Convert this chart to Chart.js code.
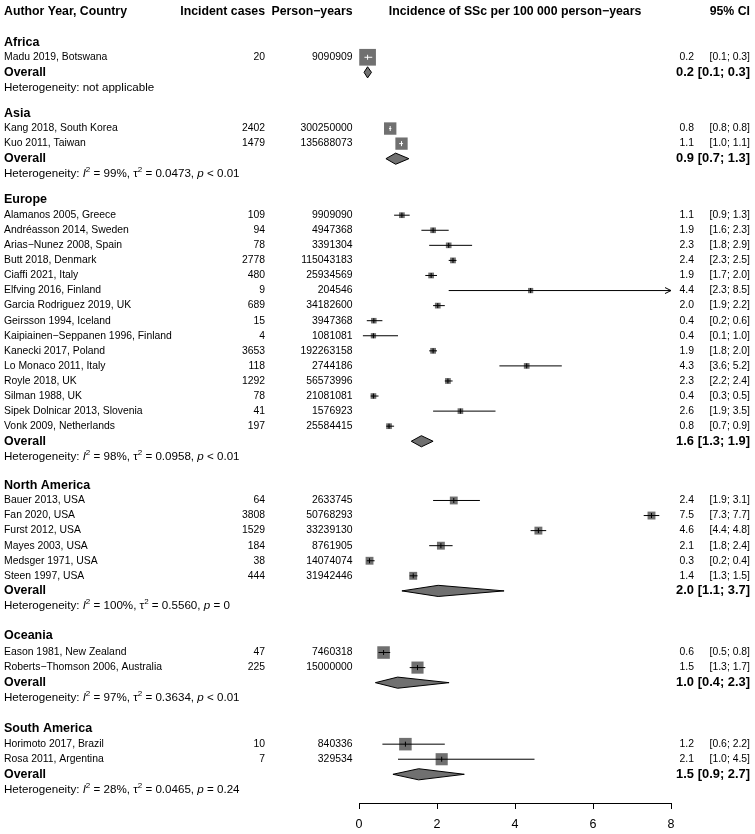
<!DOCTYPE html>
<html><head><meta charset="utf-8">
<script src="https://cdn.jsdelivr.net/npm/chart.js@4.4.1/dist/chart.umd.min.js"></script>
<style>html,body{margin:0;padding:0;background:#fff;}canvas{display:block;}</style>
</head><body>
<canvas id="c" width="755" height="834" style="width:755px;height:834px"></canvas>
<script>
// ---------------- DATA ----------------
const groups = ['Africa', 'Asia', 'Europe', 'North America', 'Oceania', 'South America'];
const studies = [
  'Madu 2019, Botswana',
  'Kang 2018, South Korea', 'Kuo 2011, Taiwan',
  'Alamanos 2005, Greece', 'Andréasson 2014, Sweden', 'Arias\u2212Nunez 2008, Spain', 'Butt 2018, Denmark',
  'Ciaffi 2021, Italy', 'Elfving 2016, Finland', 'Garcia Rodriguez 2019, UK', 'Geirsson 1994, Iceland',
  'Kaipiainen\u2212Seppanen 1996, Finland', 'Kanecki 2017, Poland', 'Lo Monaco 2011, Italy', 'Royle 2018, UK',
  'Silman 1988, UK', 'Sipek Dolnicar 2013, Slovenia', 'Vonk 2009, Netherlands',
  'Bauer 2013, USA', 'Fan 2020, USA', 'Furst 2012, USA', 'Mayes 2003, USA', 'Medsger 1971, USA', 'Steen 1997, USA',
  'Eason 1981, New Zealand', 'Roberts\u2212Thomson 2006, Australia',
  'Horimoto 2017, Brazil', 'Rosa 2011, Argentina'
];
const studyGroup = [0, 1, 1, 2, 2, 2, 2, 2, 2, 2, 2, 2, 2, 2, 2, 2, 2, 2, 3, 3, 3, 3, 3, 3, 4, 4, 5, 5];
const cases = [20, 2402, 1479, 109, 94, 78, 2778, 480, 9, 689, 15, 4, 3653, 118, 1292, 78, 41, 197,
  64, 3808, 1529, 184, 38, 444, 47, 225, 10, 7];
const personYears = [9090909, 300250000, 135688073, 9909090, 4947368, 3391304, 115043183, 25934569, 204546,
  34182600, 3947368, 1081081, 192263158, 2744186, 56573996, 21081081, 1576923, 25584415,
  2633745, 50768293, 33239130, 8761905, 14074074, 31942446, 7460318, 15000000, 840336, 329534];
const incidence = [0.22, 0.80, 1.09, 1.10, 1.90, 2.30, 2.41, 1.85, 4.40, 2.02, 0.38, 0.37, 1.90, 4.30, 2.28,
  0.37, 2.60, 0.77, 2.43, 7.50, 4.60, 2.10, 0.27, 1.39, 0.63, 1.50, 1.19, 2.12];
const ciLower = [0.14, 0.77, 1.03, 0.9, 1.6, 1.8, 2.3, 1.7, 2.3, 1.9, 0.2, 0.1, 1.8, 3.6, 2.2,
  0.3, 1.9, 0.7, 1.9, 7.3, 4.4, 1.8, 0.2, 1.3, 0.5, 1.3, 0.6, 1.0];
const ciUpper = [0.34, 0.83, 1.13, 1.3, 2.3, 2.9, 2.5, 2.0, 8.5, 2.2, 0.6, 1.0, 2.0, 5.2, 2.4,
  0.5, 3.5, 0.9, 3.1, 7.7, 4.8, 2.4, 0.4, 1.5, 0.8, 1.7, 2.2, 4.5];
const weightPct = [100, 50.5, 49.5, 6.9, 6.8, 6.7, 7.1, 7.0, 5.4, 7.0, 6.3, 5.4, 7.1, 6.8, 7.1, 6.8, 6.6, 7.0,
  16.5, 16.8, 16.8, 16.6, 16.5, 16.8, 52, 48, 52, 48];
const overallEst = [0.22, 0.94, 1.60, 2.03, 0.99, 1.53];
const overallLower = [0.13, 0.69, 1.34, 1.10, 0.42, 0.87];
const overallUpper = [0.32, 1.28, 1.90, 3.72, 2.31, 2.70];
const hetI2 = [null, 99, 98, 100, 97, 28];
const hetTau2 = [null, 0.0473, 0.0958, 0.5560, 0.3634, 0.0465];
const hetP = [null, '< 0.01', '< 0.01', '= 0', '< 0.01', '= 0.24'];
const xTicks = [0, 2, 4, 6, 8];

// ---------------- LAYOUT (rows) ----------------
const PITCH = 15.07;            // px per row
const AXIS_Y = 803;             // px of axis line
const headerRow = 0.80;
const headingGap = [2.0, 1.73, 1.70, 1.93, 1.99, 2.02];
const firstRowGap = [1.0, 1.0, 1.05, 1.0, 1.1, 1.06];
const headingRow = [], overallRow = [], hetRow = [], studyRow = [];
let cursor = headerRow;
groups.forEach((g, gi) => {
  cursor += headingGap[gi];
  headingRow[gi] = cursor;
  cursor += firstRowGap[gi] - 1;
  studies.forEach((s, i) => { if (studyGroup[i] === gi) { cursor += 1; studyRow[i] = cursor; } });
  cursor += 1; overallRow[gi] = cursor;
  cursor += 1; hetRow[gi] = cursor;
});

const FONT = '"Liberation Sans", Arial, Helvetica, sans-serif';
const GREY = '#707070';
const X_MAX = xTicks[xTicks.length - 1];
const pxPerUnit = (671 - 359) / X_MAX;
const side = weightPct.map(w => 1.8 + 14.9 * Math.sqrt(w / 100));
const inside = incidence.map((e, i) => {
  const half = side[i] / 2 / pxPerUnit;
  return ciLower[i] >= e - half && ciUpper[i] <= e + half;
});

// ---------------- DATASETS ----------------
const datasets = [];
datasets.push({
  type: 'scatter', order: 3, clip: false,
  data: studies.map((s, i) => ({x: incidence[i], y: studyRow[i]})),
  pointStyle: 'rect', pointRadius: side.map(s => s / Math.SQRT2), pointHoverRadius: side.map(s => s / Math.SQRT2),
  backgroundColor: GREY, borderWidth: 0
});
studies.forEach((s, i) => {
  datasets.push({
    type: 'line', order: 2, clip: false,
    data: [{x: ciLower[i], y: studyRow[i]}, {x: Math.min(ciUpper[i], X_MAX), y: studyRow[i]}],
    borderColor: inside[i] ? '#ffffff' : '#000000', borderWidth: 1, pointRadius: 0, fill: false
  });
});
datasets.push({
  type: 'scatter', order: 1, clip: false,
  data: studies.map((s, i) => ({x: incidence[i], y: studyRow[i]})),
  pointStyle: 'line', rotation: 90, pointRadius: 2.5, pointHoverRadius: 2.5,
  borderColor: inside.map(v => v ? '#ffffff' : '#000000'), borderWidth: 1
});
const DH = 0.37; // diamond half height in rows
groups.forEach((g, gi) => {
  const y = overallRow[gi];
  datasets.push({
    type: 'line', order: 2, clip: false,
    data: [{x: overallLower[gi], y}, {x: overallEst[gi], y: y - DH}, {x: overallUpper[gi], y},
           {x: overallEst[gi], y: y + DH}, {x: overallLower[gi], y}],
    borderColor: '#000', borderWidth: 1, backgroundColor: GREY, fill: 'shape', pointRadius: 0, tension: 0
  });
});

// ---------------- TEXT PLUGIN ----------------
function f(size, weight, style) { return `${style || 'normal'} ${weight || 'normal'} ${size}px ${FONT}`; }
const textPlugin = {
  id: 'forestText',
  afterDraw(chart) {
    const ctx = chart.ctx, ys = chart.scales.y, xs = chart.scales.x;
    const Y = v => ys.getPixelForValue(v);
    ctx.save();
    ctx.fillStyle = '#000';
    ctx.textBaseline = 'middle';
    const put = (t, x, y, font, align) => { ctx.font = font; ctx.textAlign = align || 'left'; ctx.fillText(t, x, y); };
    const X_NAME = 4, X_CASES = 265, X_PY = 352.5, X_EST = 694, X_CI = 750;
    // header
    const hy = Y(headerRow);
    put('Author Year, Country', X_NAME, hy, f(12.3, 'bold'));
    put('Incident cases', X_CASES, hy, f(12.3, 'bold'), 'right');
    put('Person\u2212years', X_PY, hy, f(12.3, 'bold'), 'right');
    put('Incidence of SSc per 100 000 person\u2212years', (xs.left + xs.right) / 2, hy, f(12.3, 'bold'), 'center');
    put('95% CI', X_CI, hy, f(12.3, 'bold'), 'right');
    // studies
    studies.forEach((s, i) => {
      const y = Y(studyRow[i]);
      put(s, X_NAME, y, f(10.4));
      put(String(cases[i]), X_CASES, y, f(10.4), 'right');
      put(String(personYears[i]), X_PY, y, f(10.4), 'right');
      put(incidence[i].toFixed(1), X_EST, y, f(10.4), 'right');
      put('[' + ciLower[i].toFixed(1) + '; ' + ciUpper[i].toFixed(1) + ']', X_CI, y, f(10.4), 'right');
    });
    groups.forEach((g, gi) => {
      put(g, X_NAME, Y(headingRow[gi]), f(12.5, 'bold'));
      const oy = Y(overallRow[gi]);
      put('Overall', X_NAME, oy, f(12.4, 'bold'));
      put(overallEst[gi].toFixed(1), X_EST, oy, f(12.9, 'bold'), 'right');
      put('[' + overallLower[gi].toFixed(1) + '; ' + overallUpper[gi].toFixed(1) + ']', X_CI, oy, f(12.9, 'bold'), 'right');
      // heterogeneity
      const hy2 = Y(hetRow[gi]);
      const FS = 11.6, SS = 8;
      let segs;
      if (hetI2[gi] === null) segs = [{t: 'Heterogeneity: not applicable'}];
      else segs = [
        {t: 'Heterogeneity: '}, {t: 'I', it: true}, {t: '2', sup: true}, {t: ' = ' + hetI2[gi] + '%, '},
        {t: '\u03C4'}, {t: '2', sup: true}, {t: ' = ' + hetTau2[gi].toFixed(4) + ', '},
        {t: 'p', it: true}, {t: ' ' + hetP[gi]}
      ];
      let x = X_NAME;
      ctx.textAlign = 'left';
      segs.forEach(sg => {
        ctx.font = sg.sup ? f(SS) : f(FS, 'normal', sg.it ? 'italic' : 'normal');
        ctx.fillText(sg.t, x, sg.sup ? hy2 - 4 : hy2);
        x += ctx.measureText(sg.t).width;
      });
    });
    // arrows for truncated CIs
    ctx.strokeStyle = '#000'; ctx.lineWidth = 1;
    studies.forEach((s, i) => {
      if (ciUpper[i] > X_MAX) {
        const px = xs.getPixelForValue(X_MAX), py = Y(studyRow[i]);
        ctx.beginPath();
        ctx.moveTo(px - 6, py - 3); ctx.lineTo(px, py); ctx.lineTo(px - 6, py + 3);
        ctx.stroke();
      }
    });
    ctx.restore();
  }
};

new Chart(document.getElementById('c'), {
  type: 'scatter',
  data: {datasets},
  plugins: [textPlugin],
  options: {
    responsive: false, maintainAspectRatio: false, animation: false, devicePixelRatio: 1,
    events: [],
    layout: {autoPadding: false, padding: {left: 359, right: 84, top: 0, bottom: 0}},
    plugins: {legend: {display: false}, tooltip: {enabled: false}},
    scales: {
      x: {
        type: 'linear', min: 0, max: X_MAX,
        afterBuildTicks: sc => { sc.ticks = xTicks.map(v => ({value: v})); },
        afterFit: sc => { sc.height = 834 - AXIS_Y; },
        ticks: {color: '#000', padding: 8, maxRotation: 0, font: {size: 12.5, family: FONT}},
        grid: {drawOnChartArea: false, drawTicks: true, tickLength: 6, color: '#000'},
        border: {display: true, color: '#000', width: 1}
      },
      y: {type: 'linear', reverse: true, min: 0, max: AXIS_Y / PITCH, display: false}
    }
  }
});
</script>
</body></html>
